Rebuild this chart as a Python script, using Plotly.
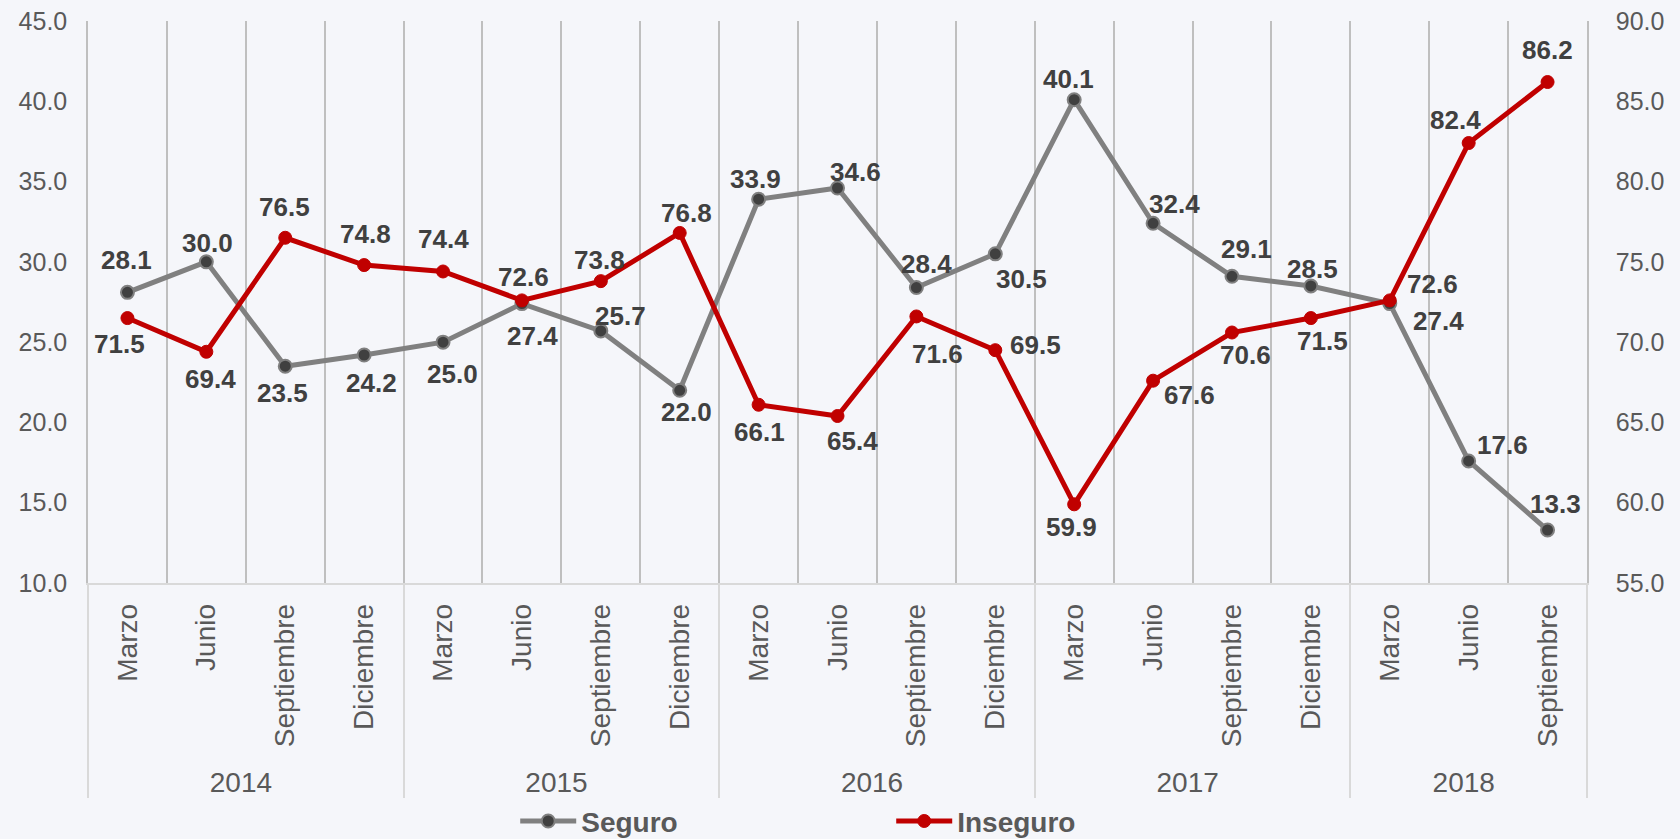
import plotly.graph_objects as go

# ---------------- data ----------------
years = ["2014"] * 4 + ["2015"] * 4 + ["2016"] * 4 + ["2017"] * 4 + ["2018"] * 3
months = ["Marzo", "Junio", "Septiembre", "Diciembre"] * 4 + ["Marzo", "Junio", "Septiembre"]
seguro = [28.1, 30.0, 23.5, 24.2, 25.0, 27.4, 25.7, 22.0, 33.9, 34.6,
          28.4, 30.5, 40.1, 32.4, 29.1, 28.5, 27.4, 17.6, 13.3]
inseguro = [71.5, 69.4, 76.5, 74.8, 74.4, 72.6, 73.8, 76.8, 66.1, 65.4,
            71.6, 69.5, 59.9, 67.6, 70.6, 71.5, 72.6, 82.4, 86.2]
left_ticks = [10, 15, 20, 25, 30, 35, 40, 45]
right_ticks = [55, 60, 65, 70, 75, 80, 85, 90]

# ---------------- styles ----------------
BG = "#F5F6FA"
GRAY = "#808080"
DARK = "#404040"
RED = "#C00000"
TICK = "#595959"
GRID = "#BFBFBF"
FONT = "Liberation Sans, Arial, sans-serif"

# label offsets in screen pixels (dx right, dy down)
seg_off = [(-1, -32), (1, -19), (-3, 27), (7, 28), (9, 32), (11, 32), (20, -15),
           (7, 22), (-3, -20), (18, -16), (10, -24), (26, 25), (-6, -21), (21, -19),
           (15, -27), (2, -17), (49, 17), (34, -16), (8, -26)]
ins_off = [(-8, 26), (4, 27), (-1, -31), (1, -31), (0, -32), (2, -23), (-1, -21),
           (7, -20), (1, 27), (15, 25), (21, 38), (40, -5), (-3, 23), (36, 14),
           (14, 22), (12, 23), (43, -16), (-13, -23), (0, -32)]

x = [years, months]

fig = go.Figure()
fig.add_trace(go.Scatter(
    x=x, y=seguro, name="Seguro", mode="lines+markers",
    line=dict(color=GRAY, width=5),
    marker=dict(color=DARK, size=13, line=dict(color=GRAY, width=2)),
    yaxis="y",
))
fig.add_trace(go.Scatter(
    x=x, y=inseguro, name="Inseguro", mode="lines+markers",
    line=dict(color=RED, width=5),
    marker=dict(color=RED, size=13, line=dict(color=RED, width=1)),
    yaxis="y2",
))

annotations = []
for i, v in enumerate(seguro):
    dx, dy = seg_off[i]
    annotations.append(dict(
        x=i, y=v, xref="x", yref="y", text=f"{v:.1f}", showarrow=False,
        xshift=dx, yshift=-dy,
        font=dict(family=FONT, size=26, color=DARK, weight="bold"),
    ))
for i, v in enumerate(inseguro):
    dx, dy = ins_off[i]
    annotations.append(dict(
        x=i, y=v, xref="x", yref="y2", text=f"{v:.1f}", showarrow=False,
        xshift=dx, yshift=-dy,
        font=dict(family=FONT, size=26, color=DARK, weight="bold"),
    ))

fig.update_layout(
    width=1680, height=839,
    paper_bgcolor=BG, plot_bgcolor=BG,
    margin=dict(l=88, r=93, t=21, b=256, pad=0, autoexpand=False),
    font=dict(family=FONT, size=26, color=TICK),
    showlegend=True,
    legend=dict(
        orientation="h", x=0.285, xanchor="left", y=-0.424, yanchor="middle",
        font=dict(family=FONT, size=28, color=TICK, weight="bold"),
        bgcolor="rgba(0,0,0,0)", itemwidth=56,
        entrywidth=305, entrywidthmode="pixels",
        itemclick=False,
    ),
    xaxis=dict(
        type="multicategory",
        range=[-0.5, 18.5], autorange=False,
        tickson="boundaries", automargin=False,
        showgrid=True, gridcolor=GRID, gridwidth=1.5,
        showline=True, linecolor="#D9D9D9", linewidth=1.5,
        ticks="", tickangle=-90, ticklabelstandoff=8,
        tickfont=dict(family=FONT, size=28, color=TICK),
        showdividers=True, dividercolor="#D9D9D9", dividerwidth=1.5,
        zeroline=False,
    ),
    yaxis=dict(
        range=[10, 45], tickvals=left_ticks, tickformat=".1f", automargin=False,
        showgrid=False, zeroline=False, showline=True, linecolor=GRID, linewidth=1.5,
        ticks="",
        tickfont=dict(family=FONT, size=25, color=TICK),
        ticklabelstandoff=14,
    ),
    yaxis2=dict(
        range=[55, 90], tickvals=right_ticks, tickformat=".1f", automargin=False,
        overlaying="y", side="right",
        showgrid=False, zeroline=False, showline=True, linecolor=GRID, linewidth=1.5,
        ticks="",
        tickfont=dict(family=FONT, size=25, color=TICK),
        ticklabelstandoff=22,
    ),
    annotations=annotations,
)

fig.write_html("out.html", config={"displayModeBar": False},
               post_script="document.body.style.margin='0';")
